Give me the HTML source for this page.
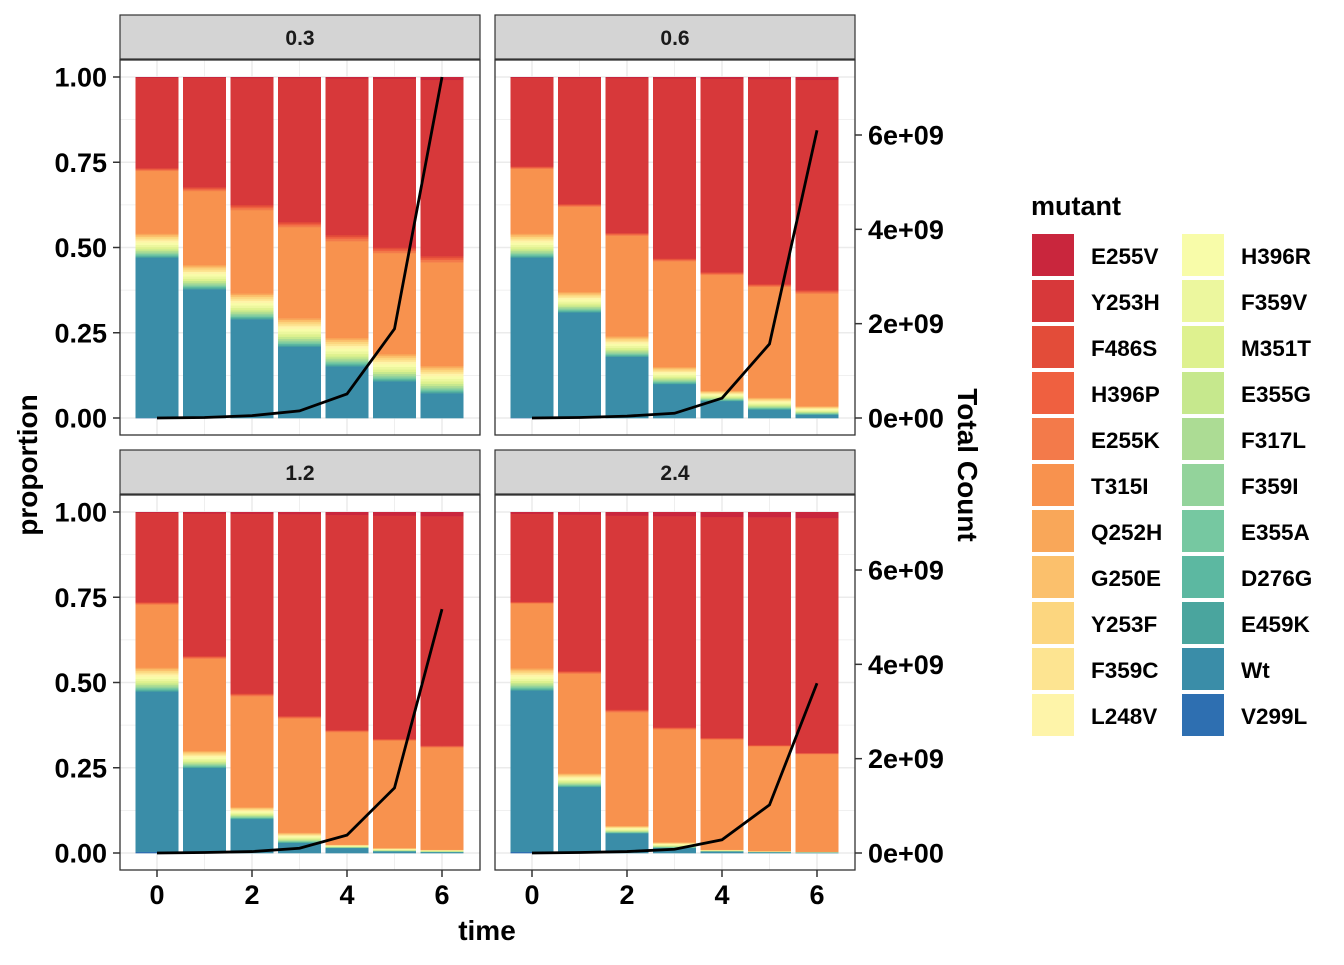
<!DOCTYPE html>
<html><head><meta charset="utf-8"><style>
body{margin:0;background:#fff;}
svg text{font-family:"Liberation Sans",Arial,sans-serif;font-weight:bold;}
</style></head><body>
<svg id="chart" width="1344" height="960" xmlns="http://www.w3.org/2000/svg"></svg>
<script>
const times=[0,1,2,3,4,5,6];
const panelLabels=["0.3","0.6","1.2","2.4"];
const mutants=["E255V","Y253H","F486S","H396P","E255K","T315I","Q252H","G250E","Y253F","F359C","L248V","H396R","F359V","M351T","E355G","F317L","F359I","E355A","D276G","E459K","Wt","V299L"];
const colors=["#C9263D","#D7383A","#E34C39","#EF6040","#F37A4A","#F8924E","#F9A759","#FBC06C","#FCD67F","#FDE491","#FEF4A9","#F8FCA9","#ECF79E","#DEF18F","#C6E88D","#ACDC94","#93D39B","#76C8A1","#5CB8A1","#4AA59E","#3A8DA8","#2E6FB1"];
const wt=[[0.47,0.378,0.29,0.21,0.152,0.108,0.073],[0.47,0.31,0.18,0.10,0.05,0.025,0.01],[0.47,0.25,0.10,0.03,0.015,0.005,0.003],[0.473,0.194,0.058,0.015,0.005,0.003,0.002]];
const minor=[[0.07,0.071,0.076,0.083,0.083,0.08,0.08],[0.07,0.06,0.06,0.05,0.03,0.035,0.025],[0.07,0.05,0.035,0.03,0.01,0.01,0.007],[0.065,0.04,0.022,0.017,0.005,0.003,0.002]];
const t315i=[[0.184,0.217,0.244,0.267,0.284,0.296,0.304],[0.19,0.25,0.295,0.31,0.34,0.325,0.33],[0.185,0.27,0.325,0.335,0.33,0.315,0.30],[0.19,0.292,0.333,0.331,0.323,0.307,0.286]];
const e255k=[[0.008,0.011,0.015,0.015,0.018,0.016,0.018],[0.007,0.008,0.008,0.008,0.008,0.008,0.01],[0.007,0.008,0.008,0.007,0.006,0.005,0.005],[0.005,0.008,0.008,0.006,0.005,0.004,0.004]];
const e255v=[[0.002,0.002,0.003,0.003,0.004,0.005,0.008],[0.002,0.003,0.003,0.004,0.005,0.006,0.008],[0.002,0.004,0.005,0.006,0.008,0.01,0.012],[0.005,0.007,0.01,0.012,0.014,0.015,0.017]];
const v299l=[[0.001,0,0,0,0,0,0],[0.001,0,0,0,0,0,0],[0.004,0,0,0,0,0,0],[0.004,0,0,0,0,0,0]];
const minorShare={G250E:1,Y253F:1,F359C:1,L248V:1.2,H396R:1.3,F359V:1.3,M351T:1.2,E355G:1,F317L:0.9,F359I:0.8,E355A:0.7,D276G:0.7,E459K:0.6,Q252H:0.8};
const totals=[[0,0.01e9,0.05e9,0.15e9,0.51e9,1.89e9,7.23e9],[0,0.01e9,0.04e9,0.1e9,0.42e9,1.57e9,6.1e9],[0,0.01e9,0.03e9,0.1e9,0.38e9,1.38e9,5.17e9],[0,0.01e9,0.03e9,0.08e9,0.28e9,1.02e9,3.6e9]];
const yTicks=[0,0.25,0.5,0.75,1];
const yTickLabels=["0.00","0.25","0.50","0.75","1.00"];
const rTicks=[0,2e9,4e9,6e9];
const rTickLabels=["0e+00","2e+09","4e+09","6e+09"];
const xTicks=[0,2,4,6];

const svg=document.getElementById('chart');
const NS="http://www.w3.org/2000/svg";
function el(t,a,p){const e=document.createElementNS(NS,t);for(const k in a)e.setAttribute(k,a[k]);(p||svg).appendChild(e);return e;}
const panels=[{x:120,y:60},{x:495,y:60},{x:120,y:495},{x:495,y:495}];
const PW=360,PH=375;
panels.forEach((p,pi)=>{
  const g=el('g',{});
  
  
  const xs=t=>p.x+37+t*47.5;
  const ys=v=>p.y+358-v*341;
  const rs=v=>p.y+358-v*(283/6e9);
  const s=el('rect',{x:p.x,y:p.y-45,width:PW,height:44,fill:'#D4D4D4',stroke:'#333','stroke-width':1.2},g);
  
  
  const st=el('text',{x:p.x+PW/2,y:p.y-15,'text-anchor':'middle','font-size':21,fill:'#1a1a1a'},g);st.textContent=panelLabels[pi];
  
  
  el('rect',{x:p.x,y:p.y,width:PW,height:PH,fill:'#fff'},g);
  for(let v=0;v<=1.0001;v+=0.125){el('line',{x1:p.x,x2:p.x+PW,y1:ys(v),y2:ys(v),stroke:'#EBEBEB','stroke-width':v*4%1?0.8:1.5},g);}
  [0,1,2,3,4,5,6].forEach(t=>el('line',{x1:xs(t),x2:xs(t),y1:p.y,y2:p.y+PH,stroke:'#EBEBEB','stroke-width':t%2?0.8:1.5},g));
  times.forEach((t,ti)=>{
    const rest=1-wt[pi][ti]-minor[pi][ti]-t315i[pi][ti]-e255k[pi][ti]-e255v[pi][ti]-v299l[pi][ti];
    const shareSum=Object.values(minorShare).reduce((a,b)=>a+b,0);
    const vals={};
    mutants.forEach(m=>vals[m]=0);
    vals.V299L=v299l[pi][ti];vals.Wt=wt[pi][ti];
    for(const m in minorShare) vals[m]=minor[pi][ti]*minorShare[m]/shareSum;
    vals.T315I=t315i[pi][ti];
    vals.E255K=e255k[pi][ti]*0.4;vals.H396P=e255k[pi][ti]*0.3;vals.F486S=e255k[pi][ti]*0.3;
    vals.Y253H=rest;vals.E255V=e255v[pi][ti];
    let cum=0;
    for(let i=mutants.length-1;i>=0;i--){
      const v=vals[mutants[i]];if(v<=0)continue;
      const r=el('rect',{x:xs(t)-21.5,y:ys(cum+v),width:43,height:v*341+0.3,fill:colors[i]},g);
      
      
      cum+=v;
    }
  });
  const pts=times.map((t,i)=>xs(t)+','+rs(totals[pi][i])).join(' ');
  const ln=el('polyline',{points:pts,fill:'none',stroke:'#000','stroke-width':2.8},g);
  
  
  el('rect',{x:p.x,y:p.y,width:PW,height:PH,fill:'none',stroke:'#333','stroke-width':1.3},g);
  if(pi%2==0){yTicks.forEach((v,i)=>{el('line',{x1:p.x-7,x2:p.x,y1:ys(v),y2:ys(v),stroke:'#333','stroke-width':1.5},g);
    const tx=el('text',{x:p.x-13,y:ys(v)+9.5,'text-anchor':'end','font-size':27,fill:'#000'},g);tx.textContent=yTickLabels[i];
    
    });}
  else{rTicks.forEach((v,i)=>{el('line',{x1:p.x+PW,x2:p.x+PW+7,y1:rs(v),y2:rs(v),stroke:'#333','stroke-width':1.5},g);
    const tx=el('text',{x:p.x+PW+13,y:rs(v)+9.5,'font-size':27,fill:'#000'},g);tx.textContent=rTickLabels[i];
    
    });}
  if(pi>=2){xTicks.forEach(t=>{el('line',{x1:xs(t),x2:xs(t),y1:p.y+PH,y2:p.y+PH+7,stroke:'#333','stroke-width':1.5},g);
    const tx=el('text',{x:xs(t),y:p.y+PH+34,'text-anchor':'middle','font-size':27,fill:'#000'},g);tx.textContent=t;
    
    });}
});
let t=el('text',{x:487,y:940,'text-anchor':'middle','font-size':28});t.textContent='time';


t=el('text',{x:0,y:0,'text-anchor':'middle','font-size':28,transform:'translate(37,465) rotate(-90)'});t.textContent='proportion';


t=el('text',{x:0,y:0,'text-anchor':'middle','font-size':28,transform:'translate(958,465) rotate(90)'});t.textContent='Total Count';


const lg=el('g',{});


t=el('text',{x:1031,y:215,'font-size':27},lg);t.textContent='mutant';


mutants.forEach((m,i)=>{
  const col=i<11?0:1,row=i%11;
  const x=1032+col*150,y=234+row*46;
  const e=el('g',{},lg);
  
  
  el('rect',{x:x,y:y,width:42,height:42,fill:colors[i]},e);
  const tx=el('text',{x:x+59,y:y+30,'font-size':22.5},e);tx.textContent=m;
});
</script>
</body></html>
